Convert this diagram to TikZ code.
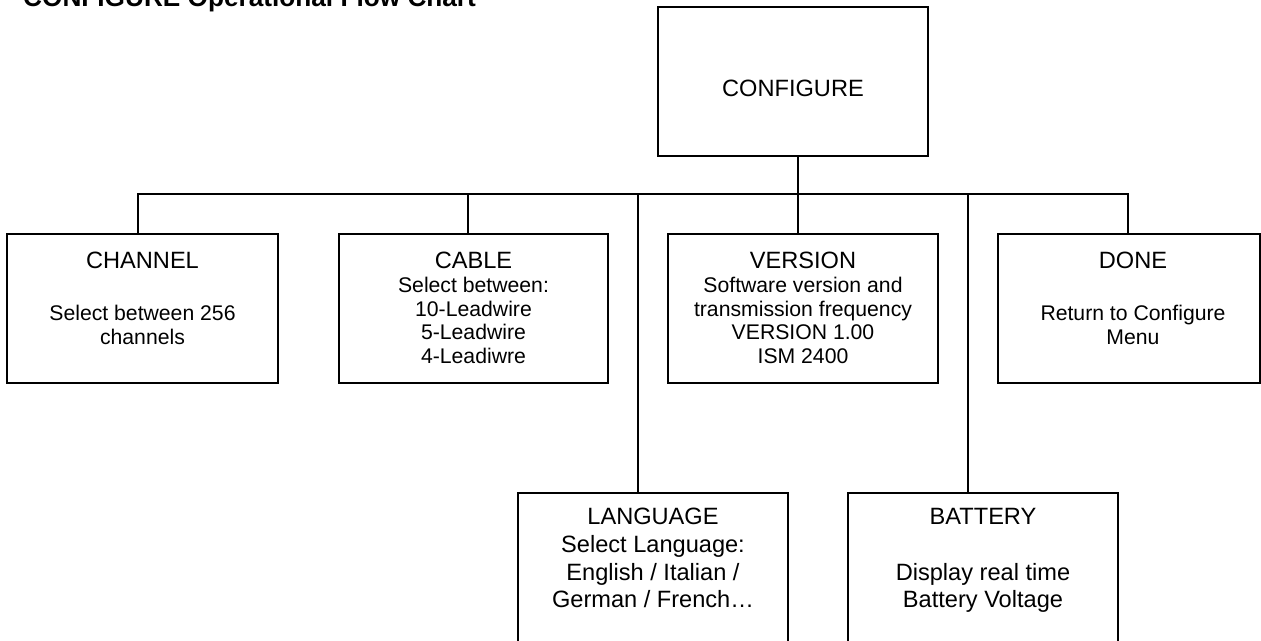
\documentclass[tikz,border=0pt]{standalone}
\usepackage{fontspec}
\setmainfont{Liberation Sans}
\newcommand{\headsz}{\fontsize{23.6}{23.8}\selectfont}
\newcommand{\bodysz}{\fontsize{21.2}{23.8}\selectfont}
\newcommand{\lowsz}{\fontsize{23.6}{27.6}\selectfont}
\begin{document}
\begin{tikzpicture}[x=1pt,y=-1pt,
  box/.style={draw, line width=1.8pt, inner sep=0pt, minimum width=270pt, minimum height=149pt},
  conn/.style={line width=1.8pt},
  toptxt/.style={anchor=base, align=center, inner sep=0pt, font=\bodysz},
  lowtxt/.style={anchor=base, align=center, inner sep=0pt, font=\lowsz}]
\useasboundingbox (0,0) rectangle (1261,640);
\clip (0,0) rectangle (1261,640);
% title
\node[anchor=base west, inner sep=0pt, font=\fontsize{26.2}{30}\selectfont\bfseries] (title) at (23,6) {CONFIGURE Operational Flow Chart};
% boxes
\node[box] (configure) at (793,81.5) {};
\node[box, minimum width=271pt] (channel) at (142.5,308.5) {};
\node[box, minimum width=269pt] (cable) at (473.5,308.5) {};
\node[box] (version) at (803,308.5) {};
\node[box, minimum width=262pt] (done) at (1129,308.5) {};
\node[box, minimum height=170pt] (language) at (653,578) {};
\node[box, minimum height=170pt] (battery) at (983,578) {};
% texts (anchor base = baseline of the last line)
\node[anchor=base, inner sep=0pt, font=\headsz] (configuretxt) at (793,96.7) {CONFIGURE};
\node[toptxt] (channeltxt) at ([yshift=-111.3pt]channel.north) {{\headsz CHANNEL}\\[28pt]Select between 256\\channels};
\node[toptxt] (cabletxt) at ([yshift=-130.5pt]cable.north) {{\headsz CABLE}\\Select between:\\10-Leadwire\\5-Leadwire\\4-Leadiwre};
\node[toptxt] (versiontxt) at ([yshift=-130.5pt]version.north) {{\headsz VERSION}\\Software version and\\transmission frequency\\VERSION 1.00\\ISM 2400};
\node[toptxt] (donetxt) at ([xshift=4pt,yshift=-111pt]done.north) {{\headsz DONE}\\[28pt]Return to Configure\\Menu};
\node[lowtxt] (languagetxt) at ([yshift=-115.5pt]language.north) {LANGUAGE\\Select Language:\\English / Italian /\\German / French\ldots};
\node[lowtxt] (batterytxt) at ([yshift=-115.5pt]battery.north) {BATTERY\\[27.6pt]Display real time\\Battery Voltage};
% connectors
\coordinate (busL) at (138,194);
\coordinate (busR) at (1128,194);
\draw[conn] ([xshift=-4.5pt]channel.north) -- (busL) -- (busR) -- ([xshift=-1pt]done.north);
\draw[conn] ([xshift=5pt]configure.south) -- ([xshift=5pt]configure.south |- busL);
\draw[conn] ([xshift=-5.5pt]cable.north) -- ([xshift=-5.5pt]cable.north |- busL);
\draw[conn] ([xshift=-5pt]version.north) -- ([xshift=-5pt]version.north |- busL);
\draw[conn] ([xshift=-15pt]language.north) -- ([xshift=-15pt]language.north |- busL);
\draw[conn] ([xshift=-15pt]battery.north) -- ([xshift=-15pt]battery.north |- busL);
\end{tikzpicture}
\end{document}
